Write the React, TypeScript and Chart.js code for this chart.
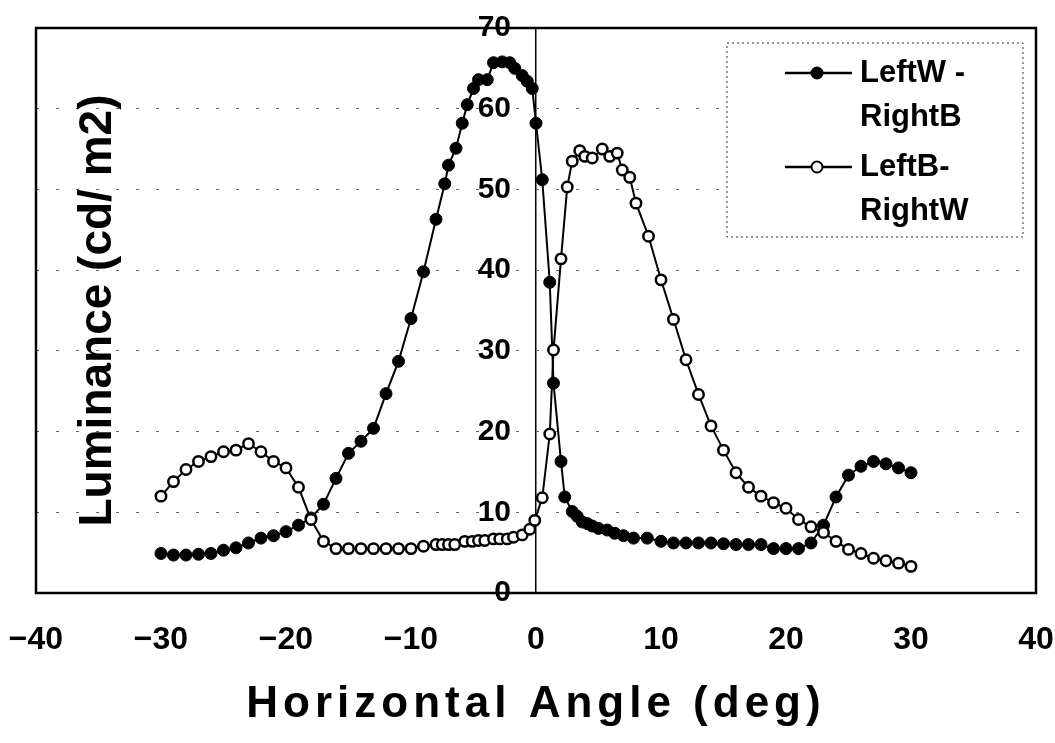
import React, { useEffect, useRef } from "react";
import { Chart, registerables } from "chart.js";

Chart.register(...registerables);

// ---- data ----
const xTickValues = [-40, -30, -20, -10, 0, 10, 20, 30, 40];
const yTickValues = [0, 10, 20, 30, 40, 50, 60, 70];

const seriesLabels = ["LeftW-RightB", "LeftB-RightW"];
const legendLines = [["LeftW -", "RightB"], ["LeftB-", "RightW"]];
const xTitle = "Horizontal Angle (deg)";
const yTitle = "Luminance (cd/ m2)";

// LeftW-RightB (filled markers)
const filledX = [
  -30, -29, -28, -27, -26, -25, -24, -23, -22, -21, -20, -19, -18, -17, -16, -15, -14, -13, -12, -11,
  -10, -9, -8, -7.3, -7, -6.4, -5.9, -5.5, -5, -4.6, -3.9, -3.4, -2.7, -2.1, -1.7, -1.1, -0.7, -0.3,
  0, 0.5, 1.1, 1.4, 2, 2.3, 2.9, 3.3, 3.7, 4.1, 4.5, 5, 5.7, 6.3, 7, 7.8, 8.9,
  10, 11, 12, 13, 14, 15, 16, 17, 18, 19, 20, 21, 22, 23, 24, 25, 26, 27, 28, 29, 30,
];
const filledY = [
  4.9, 4.7, 4.7, 4.8, 4.9, 5.3, 5.6, 6.2, 6.8, 7.1, 7.6, 8.4, 9.3, 11.0, 14.2, 17.3, 18.8, 20.4, 24.7, 28.7,
  34.0, 39.8, 46.3, 50.7, 53.0, 55.1, 58.2, 60.5, 62.5, 63.6, 63.6, 65.7, 65.8, 65.7, 65.0, 64.1, 63.4, 62.5,
  58.2, 51.2, 38.5, 26.0, 16.3, 11.9, 10.1, 9.5, 8.8, 8.6, 8.3, 8.0, 7.8, 7.4, 7.1, 6.8, 6.8,
  6.4, 6.2, 6.2, 6.2, 6.2, 6.1, 6.0, 6.0, 6.0, 5.5, 5.5, 5.5, 6.2, 8.4, 11.9, 14.6, 15.7, 16.3, 16.0, 15.5, 14.9,
];

// LeftB-RightW (open markers)
const openX = [
  -30, -29, -28, -27, -26, -25, -24, -23, -22, -21, -20, -19, -18, -17, -16, -15, -14, -13, -12, -11,
  -10, -9, -8, -7.5, -7, -6.5, -5.7, -5.1, -4.6, -4.1, -3.4, -2.9, -2.3, -1.8, -1.1, -0.5, -0.1,
  0.5, 1.1, 1.4, 2.0, 2.5, 2.9, 3.5, 3.9, 4.5, 5.3, 5.9, 6.5, 6.9, 7.5, 8.0, 9.0,
  10, 11, 12, 13, 14, 15, 16, 17, 18, 19, 20, 21, 22, 23, 24, 25, 26, 27, 28, 29, 30,
];
const openY = [
  12.0, 13.8, 15.3, 16.3, 16.9, 17.5, 17.7, 18.5, 17.5, 16.3, 15.5, 13.1, 9.1, 6.4, 5.5, 5.5, 5.5, 5.5, 5.5, 5.5,
  5.5, 5.8, 6.0, 6.0, 6.0, 6.0, 6.4, 6.4, 6.5, 6.5, 6.7, 6.7, 6.7, 6.9, 7.2, 7.9, 9.0,
  11.8, 19.7, 30.1, 41.4, 50.3, 53.5, 54.8, 54.1, 53.9, 55.0, 54.1, 54.5, 52.4, 51.5, 48.3, 44.2,
  38.8, 33.9, 28.9, 24.6, 20.7, 17.7, 14.9, 13.1, 12.0, 11.2, 10.5, 9.1, 8.2, 7.5, 6.4, 5.4, 4.9, 4.3, 4.0, 3.7, 3.3,
];

const FONT = "'Liberation Sans', Arial, Helvetica, sans-serif";

const toPoints = (xs: number[], ys: number[]) => xs.map((x, i) => ({ x, y: ys[i] }));
const fmtTick = (v: number) => (v < 0 ? "\u2212" + Math.abs(v) : String(v));

export default function App() {
  const ref = useRef<HTMLCanvasElement>(null);

  useEffect(() => {
    if (!ref.current) return;

    const framePlugin = {
      id: "frame",
      beforeDraw(chart: any) {
        // widen the letter spacing of the x-axis title, as in the reference
        const s = chart.scales.x;
        if (s && !s.__spaced) {
          const orig = s.drawTitle.bind(s);
          s.drawTitle = function () {
            const c: any = this.ctx;
            const prev = c.letterSpacing;
            c.letterSpacing = "5px";
            orig();
            c.letterSpacing = prev || "0px";
          };
          s.__spaced = true;
        }
      },
      beforeDatasetsDraw(chart: any) {
        const { ctx, chartArea: a } = chart;
        ctx.save();
        ctx.strokeStyle = "#000";
        ctx.lineWidth = 2.5;
        ctx.strokeRect(a.left, a.top, a.right - a.left, a.bottom - a.top);
        ctx.restore();
      },
    };

    const legendPlugin = {
      id: "boxLegend",
      afterDatasetsDraw(chart: any) {
        const { ctx, chartArea: a } = chart;
        const left = a.right - 309;
        const right = a.right - 13;
        const top = a.top + 15;
        const bottom = a.top + 209;
        ctx.save();
        ctx.fillStyle = "#fff";
        ctx.fillRect(left, top, right - left, bottom - top);
        ctx.setLineDash([2, 3]);
        ctx.strokeStyle = "#333";
        ctx.lineWidth = 1;
        ctx.strokeRect(left, top, right - left, bottom - top);
        ctx.setLineDash([]);
        const rows = [30, 124];
        chart.data.datasets.forEach((ds: any, i: number) => {
          const y = top + rows[i];
          ctx.strokeStyle = "#000";
          ctx.lineWidth = 2.5;
          ctx.beginPath();
          ctx.moveTo(left + 58, y);
          ctx.lineTo(left + 125, y);
          ctx.stroke();
          ctx.beginPath();
          ctx.arc(left + 90, y, 5.5, 0, Math.PI * 2);
          ctx.fillStyle = ds.pointBackgroundColor;
          ctx.fill();
          ctx.lineWidth = 2;
          ctx.strokeStyle = ds.pointBorderColor;
          ctx.stroke();
          ctx.fillStyle = "#000";
          ctx.font = `bold 31px ${FONT}`;
          ctx.textBaseline = "middle";
          ctx.textAlign = "left";
          legendLines[i].forEach((line, j) => {
            ctx.fillText(line, left + 133, y + j * 44);
          });
        });
        ctx.restore();
      },
    };

    const chart = new Chart(ref.current, {
      type: "line",
      data: {
        datasets: [
          {
            label: seriesLabels[0],
            data: toPoints(filledX, filledY),
            borderColor: "#000",
            borderWidth: 2,
            pointRadius: 6,
            pointBackgroundColor: "#000",
            pointBorderColor: "#000",
            pointBorderWidth: 1,
            tension: 0,
            order: 1,
            xAxisID: "x",
            yAxisID: "y",
          },
          {
            label: seriesLabels[1],
            data: toPoints(openX, openY),
            borderColor: "#000",
            borderWidth: 2,
            pointRadius: 5.2,
            pointBackgroundColor: "#fff",
            pointBorderColor: "#000",
            pointBorderWidth: 2.5,
            tension: 0,
            order: 0,
            xAxisID: "x",
            yAxisID: "y",
          },
        ],
      },
      options: {
        responsive: false,
        animation: false,
        layout: { padding: { left: 36, right: 19, top: 28, bottom: 0 } },
        plugins: {
          legend: { display: false },
          tooltip: { enabled: false },
        },
        scales: {
          x: {
            type: "linear",
            position: "bottom",
            min: xTickValues[0],
            max: xTickValues[xTickValues.length - 1],
            afterBuildTicks: (s: any) => {
              s.ticks = xTickValues.map((v) => ({ value: v }));
            },
            afterFit: (s: any) => {
              s.height = 150;
              s.paddingLeft = 0;
              s.paddingRight = 0;
            },
            ticks: {
              callback: (v: any) => fmtTick(Number(v)),
              font: { family: FONT, size: 32, weight: "bold" },
              color: "#000",
              padding: 28,
              maxRotation: 0,
              autoSkip: false,
            },
            grid: {
              drawTicks: false,
              color: (c: any) => (c.tick && c.tick.value === 0 ? "#000" : "rgba(0,0,0,0)"),
              lineWidth: 1.5,
            },
            border: { display: false },
            title: {
              display: true,
              text: xTitle,
              font: { family: FONT, size: 44, weight: "bold" },
              color: "#000",
              padding: { top: 0, bottom: 12 },
            },
          },
          y: {
            type: "linear",
            position: "left",
            min: yTickValues[0],
            max: yTickValues[yTickValues.length - 1],
            afterBuildTicks: (s: any) => {
              s.ticks = yTickValues.map((v) => ({ value: v }));
            },
            afterFit: (s: any) => {
              s.width = 0;
              s.paddingTop = 0;
              s.paddingBottom = 0;
            },
            ticks: { display: false },
            grid: {
              drawTicks: false,
              color: (c: any) =>
                c.tick && (c.tick.value === 0 || c.tick.value === 70) ? "rgba(0,0,0,0)" : "#666",
              lineWidth: 1,
            },
            border: { display: false, dash: [3, 17] },
            title: {
              display: true,
              text: yTitle,
              font: { family: FONT, size: 46, weight: "bold" },
              color: "#000",
              padding: { top: 35, bottom: 0 },
            },
          },
          y0: {
            type: "linear",
            position: { x: -2 } as any,
            min: yTickValues[0],
            max: yTickValues[yTickValues.length - 1],
            afterBuildTicks: (s: any) => {
              s.ticks = yTickValues.map((v) => ({ value: v }));
            },
            afterFit: (s: any) => {
              s.width = 0;
              s.paddingTop = 0;
              s.paddingBottom = 0;
            },
            ticks: {
              font: { family: FONT, size: 30, weight: "bold" },
              color: "#000",
              padding: 0,
            },
            grid: { display: false, drawTicks: false },
            border: { display: false },
          },
        } as any,
      },
      plugins: [framePlugin, legendPlugin],
    } as any);

    return () => chart.destroy();
  }, []);

  return (
    <div style={{ position: "fixed", left: 0, top: 0, width: 1055, height: 743, background: "#fff" }}>
      <canvas ref={ref} width={1055} height={743} style={{ display: "block" }} />
    </div>
  );
}
